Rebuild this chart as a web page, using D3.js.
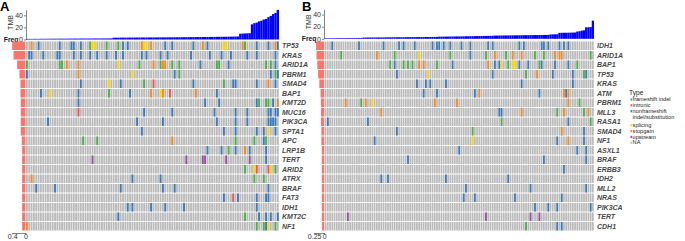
<!DOCTYPE html>
<html><head><meta charset="utf-8">
<script src="https://cdn.jsdelivr.net/npm/d3@7"></script>
<style>body{margin:0;background:#fff}svg{display:block;font-family:"Liberation Sans",Arial,sans-serif}</style>
</head><body><svg id="c" width="685" height="241"></svg>
<script>
// ---------- legend / types ----------
const typeCodes  = ["g","r","b","y","o","p","n"];
const typeNames  = ["frameshift indel","intronic","nonframeshift indel/substitution","splicing","stopgain","upstream","NA"];
const typeColors = ["#4daf4a","#f0544f","#3a7bbf","#ffd700","#f7891f","#984ea3","#bdbdbd"];

// ---------- panel A ----------
const genesA = ["TP53","KRAS","ARID1A","PBRM1","SMAD4","BAP1","KMT2D","MUC16","PIK3CA","SPTA1","APC","LRP1B","TERT","ARID2","ATRX","BRAF","FAT3","IDH1","KMT2C","NF1"];
const freqA  = [0.40,0.36,0.25,0.18,0.15,0.15,0.14,0.14,0.14,0.14,0.11,0.10,0.10,0.10,0.10,0.10,0.10,0.10,0.10,0.10];
const mutA = [
 "2o 5b 14b 19b 20b 23b 27g 28y 29y 34g 39g 41b 43b 49o 50y 51y 53o 59b 62b 71b 75o 77b 84y 85y 92o 93g 98b 103b 106o 107b",
 "1b 2b 7b 13b 14b 20b 23b 27b 30b 34b 38b 41b 49b 51b 57b 60b 70b 78b 83b 87b 94b 98b 106b",
 "0g 14g 15g 17o 22o 39y 48g 54o 57g 58o 59o 62g 65g 74b 81g 82g 86b 102g 104g 106b",
 "0b 22o 45y 63b 65g 104b 106g 107b",
 "23b 35y 40b 50g 54r 71b 84g 88b 89b 98b 103o 106b",
 "6b 10y 22b 35g 44b 53o 57y 58o 61r 72o 81b",
 "22b 76b 82b 98b 99g 102g 103g 105b 107o",
 "22r 50b 62b 80b 89b 94b 103b 104b 106b 107b",
 "9b 47b 58b 81b 89b 94b 103b 104b 105b 106b",
 "49b 84b 89b 98b 101b 103y 106b",
 "24g 30g 62o 89g 97g 101b 102g",
 "77b 83b 86g 89b 93o 95b 102b",
 "28p 68p 75p 76p 85p 95p 102b",
 "93g 97y 98r 103r 104y 106g",
 "2o 45b 57b 97g 101g",
 "4b 12b 40b 58b 63b 103b",
 "84b 88r 90b 98b 102b 103b",
 "43b 45b 53b 59b 67b 98b",
 "39b 93g 99b 102b 104b 107b",
 "0o 98g 101g 102b 103y 106g"
];
const tmbA = [1.0,1.0,1.0,1.1,1.1,1.1,1.2,1.2,1.2,1.2,
 1.3,1.3,1.3,1.3,1.4,1.4,1.4,1.4,1.5,1.5,
 1.5,1.5,1.5,1.6,1.6,1.6,1.6,1.6,1.7,1.7,
 1.7,1.7,1.7,1.8,1.8,1.8,1.8,
 3.0,3.0,3.0,
 3.1,3.1,3.1,3.1,3.2,3.2,3.2,3.2,3.3,3.3,
 3.3,3.3,3.4,3.4,3.4,3.4,3.5,3.5,3.5,3.5,
 3.6,3.6,3.6,3.7,3.7,3.7,3.8,3.8,3.8,3.9,
 3.9,3.9,4.0,4.0,4.0,4.1,4.1,4.2,4.2,4.3,
 4.3,4.4,4.4,4.5,4.5,4.6,4.6,4.7,4.8,4.9,
 5.0,
 9.5,9.8,10,10.2,10.5,
 25,27,28,30,31,33,34,37,39,42,44,49];

// ---------- panel B ----------
const genesB = ["IDH1","ARID1A","BAP1","TP53","KRAS","ATM","PBRM1","MLL3","RASA1","SMAD4","NF1","ASXL1","BRAF","ERBB3","IDH2","MLL2","NRAS","PIK3CA","TERT","CDH1"];
const freqB  = [0.20,0.19,0.17,0.15,0.12,0.09,0.08,0.08,0.08,0.07,0.07,0.06,0.06,0.06,0.06,0.06,0.06,0.06,0.06,0.055];
const mutB = [
 "3b 15b 26b 33b 35b 40b 48b 50b 51b 53b 56b 61b 65b 73b 75b 87b 89b 97b 98b 100b 105b 107b 109b",
 "7g 23o 31g 42y 56g 65b 72g 76o 81g 84o 88o 94g 98g 103o 105o 106o 119g",
 "29g 31b 35g 37g 39g 42o 44o 50g 57b 73o 76b 78b 79y 82g 84y 85y 87b 91b 96g 97b 103b 109b 113g",
 "32b 46y 75b 90g 95o 102b 111b 116g 117b",
 "41b 45b 47b 54b 88b 111b",
 "44b 50b 67b 69o 96b 107o 108b 109o",
 "9o 16g 18o 21y 49o 59o 109o 114g",
 "25o 78b 79b 88o 104g 107o 116g 118o",
 "1b 19b 79g 109b 119g",
 "32b 66g 106o 116b",
 "22b 66y 104b 109o 116b",
 "60b 113b 117b",
 "37b 98b 117b",
 "107b",
 "25b 28b 54b 82b",
 "63b 92b 117b",
 "62b 67b 85b 106b",
 "94b 100b 104b 119b",
 "10p 72p 92p 96p",
 "90g 104b 106b"
];
const tmbB = [1.0,1.0,1.0,1.0,1.1,1.1,1.1,1.1,1.2,1.2,1.2,1.2,1.3,1.3,1.3,1.3,1.4,
 2.0,2.0,2.1,2.1,2.2,2.2,2.2,2.3,2.3,2.3,2.4,2.4,2.4,2.5,2.5,2.5,2.6,2.6,2.6,2.7,2.7,2.7,2.8,2.8,2.8,2.9,2.9,2.9,3.0,3.0,3.0,3.1,3.1,3.1,
 3.5,3.5,3.6,3.6,3.7,3.7,3.8,3.8,3.9,3.9,4.0,4.0,
 4.2,4.2,4.3,4.3,4.4,4.5,4.5,4.6,4.7,4.7,4.8,4.9,5.0,
 5.3,5.3,5.4,5.4,5.5,5.5,5.6,5.6,5.7,5.7,5.8,5.8,5.9,5.9,6.0,6.0,6.1,6.1,6.2,6.2,6.3,6.3,6.4,6.4,6.5,
 7.2,7.3,7.4,7.5,
 9.8,9.9,10,10,10.1,10.2,10.3,10.4,
 12,12.5,
 13.5,14,
 19,19,19.5,
 30];

const tmbTicks = [0,20,40];
const freqTicksA = [0.4,0];
const freqTicksB = [0.25,0];

// ---------- drawing ----------
const svg = d3.select("#c");
const colorOf = d3.scaleOrdinal().domain(typeCodes).range(typeColors);

function parseMuts(str){
  return str.trim().split(/\s+/).map(t=>({col:+t.slice(0,-1), type:t.slice(-1)}));
}

function drawPanel(o){
  const g = svg.append("g");
  const n = o.tmb.length;
  const xs = d3.scaleBand().domain(d3.range(n)).range([o.x0,o.x1]);
  const ys = d3.scaleBand().domain(o.genes).range([41,231]);
  const bw = xs.bandwidth(), bh = ys.bandwidth();

  // background cells
  const cells = [];
  o.genes.forEach(gn=>{ for(let i=0;i<n;i++) cells.push({g:gn,i}); });
  g.append("g").selectAll("rect").data(cells).join("rect")
    .attr("x",d=>xs(d.i)+0.25).attr("width",bw-0.5)
    .attr("y",d=>ys(d.g)+0.5).attr("height",bh-1)
    .attr("fill","#bababa");

  // mutations
  const muts = [];
  o.genes.forEach((gn,k)=>parseMuts(o.muts[k]).forEach(m=>{ if(m.col<n) muts.push({g:gn,i:m.col,t:m.type}); }));
  g.append("g").selectAll("rect").data(muts).join("rect")
    .attr("x",d=>xs(d.i)+0.25).attr("width",bw-0.5)
    .attr("y",d=>ys(d.g)+0.5).attr("height",bh-1)
    .attr("fill",d=>colorOf(d.t));

  // gene labels
  g.append("g").selectAll("text").data(o.genes).join("text")
    .attr("x",o.x1+3).attr("y",d=>ys(d)+bh/2).attr("dy","0.35em")
    .attr("font-size",7).attr("font-weight","bold").attr("font-style","italic")
    .attr("fill","#4a4a4a").text(d=>d);

  // TMB bars
  const yt = d3.scaleLinear().domain([0,49]).range([o.base, o.base-49*0.605]);
  g.append("g").selectAll("rect").data(o.tmb).join("rect")
    .attr("x",(d,i)=>xs(i)).attr("width",bw)
    .attr("y",d=>yt(d)).attr("height",d=>o.base-yt(d))
    .attr("fill","#0000ff");
  const ax = g.append("g").attr("transform",`translate(${o.axX},0)`)
    .call(d3.axisLeft(yt).tickValues(tmbTicks).tickSize(2).tickSizeOuter(0).tickPadding(1));
  ax.selectAll("text").attr("font-size",7).attr("fill","#333").attr("font-family","Liberation Sans, Arial");
  ax.selectAll("line,path").attr("stroke","#333").attr("stroke-width",0.6);
  g.append("text").attr("transform",`translate(${o.axX-13},${o.base-17}) rotate(-90)`)
    .attr("text-anchor","middle").attr("font-size",7).attr("fill","#333").text("TMB");
  g.append("text").attr("x",o.axX-7.5).attr("y",o.base+2.2).attr("font-size",6.8)
    .attr("text-anchor","end").attr("font-weight","bold").attr("fill","#222").text("Freq");

  // freq bars
  const xf = d3.scaleLinear().domain([0,o.fMax]).range([o.x0-0.3, o.x0-0.3-o.fPx]);
  g.append("g").selectAll("rect").data(o.genes).join("rect")
    .attr("x",(d,k)=>xf(o.freq[k])).attr("width",(d,k)=>xf(0)-xf(o.freq[k]))
    .attr("y",d=>ys(d)+0.5).attr("height",bh-1)
    .attr("fill","#f8766d");
  const fx = g.append("g").attr("transform","translate(0,233)")
    .call(d3.axisBottom(xf).tickValues(o.fTicks).tickFormat(d=>d===0?"0":String(d)).tickSize(1.5).tickSizeOuter(0).tickPadding(1));
  fx.selectAll("text").attr("font-size",7).attr("fill","#333").attr("dy","0.55em");
  fx.selectAll("line,path").attr("stroke","#333").attr("stroke-width",0.6);

  // panel letter
  g.append("text").attr("x",o.letterX).attr("y",11).attr("font-size",13)
    .attr("font-weight","bold").attr("fill","#000").text(o.letter);
}

drawPanel({genes:genesA,freq:freqA,muts:mutA,tmb:tmbA,x0:25.7,x1:279,base:39.5,axX:26,
  fMax:0.4,fPx:13.2,fTicks:freqTicksA,letter:"A",letterX:0});
drawPanel({genes:genesB,freq:freqB,muts:mutB,tmb:tmbB,x0:324.5,x1:594,base:38.8,axX:324,
  fMax:0.25,fPx:10.1,fTicks:freqTicksB,letter:"B",letterX:302});

// legend
const lg = svg.append("g").attr("transform","translate(629,0)");
lg.append("text").attr("x",0).attr("y",94.8).attr("font-size",6.6).attr("fill","#222").text("Type");
const legItems = [
  {c:0,lines:["frameshift indel"],y:101.2},
  {c:1,lines:["intronic"],y:107},
  {c:2,lines:["nonframeshift","indel/substitution"],y:112.9},
  {c:3,lines:["splicing"],y:127},
  {c:4,lines:["stopgain"],y:132.8},
  {c:5,lines:["upstream"],y:138.6},
  {c:6,lines:["NA"],y:144.4}
];
legItems.forEach(it=>{
  lg.append("rect").attr("x",1.5).attr("y",it.y-2.8).attr("width",1.6).attr("height",2.2).attr("fill",typeColors[it.c]);
  it.lines.forEach((l,j)=>lg.append("text").attr("x",3.6).attr("y",it.y+j*5.8).attr("font-size",5.6).attr("fill","#222").text(l));
});
</script></body></html>
